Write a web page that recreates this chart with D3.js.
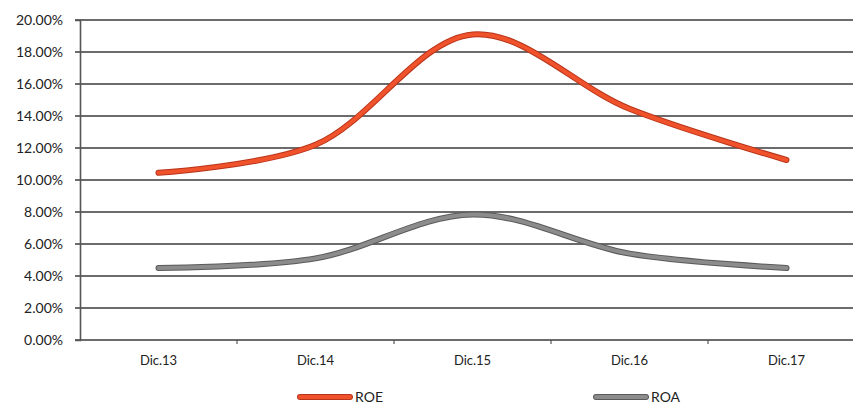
<!DOCTYPE html>
<html>
<head>
<meta charset="utf-8">
<script src="https://cdn.jsdelivr.net/npm/d3@7"></script>
<style>
  body { margin: 0; background: #fff; }
  text { font-family: Lato, "Open Sans", sans-serif; fill: #222; }
</style>
</head>
<body>
<div id="plot"></div>
<script>
// data
const periods = ["Dic.13", "Dic.14", "Dic.15", "Dic.16", "Dic.17"];
const roe = [0.1045, 0.122, 0.191, 0.1445, 0.1125];
const roa = [0.045, 0.051, 0.0785, 0.054, 0.045];
const yTicks = [0, 0.02, 0.04, 0.06, 0.08, 0.10, 0.12, 0.14, 0.16, 0.18, 0.20];

const w = 853;
const h = 404;
const margin = {top: 20, right: -12, bottom: 64, left: 80};
const innerWidth = w - margin.left - margin.right;
const innerHeight = h - margin.top - margin.bottom;

const svg = d3.select("div#plot")
  .append("svg")
    .attr("width", w)
    .attr("height", h);

const g = svg.append("g")
  .attr("transform", `translate(${margin.left}, ${margin.top})`);

const xScale = d3.scaleBand()
  .domain(periods)
  .range([0, innerWidth]);

const yScale = d3.scaleLinear()
  .domain([0, 0.20])
  .range([innerHeight, 0]);

// gridlines
g.append("g")
  .selectAll("line")
  .data(yTicks)
  .enter()
  .append("line")
    .attr("x1", -5)
    .attr("x2", innerWidth)
    .attr("y1", d => yScale(d))
    .attr("y2", d => yScale(d))
    .attr("stroke", "#3a3a3a")
    .attr("stroke-width", 1.6);

// y axis
const yAxis = d3.axisLeft(yScale)
  .tickValues(yTicks)
  .tickFormat(d3.format(".2%"))
  .tickSize(5)
  .tickPadding(12);

g.append("g")
  .attr("id", "yaxis")
  .call(yAxis)
  .call(a => a.select(".domain").attr("stroke", "#555").attr("stroke-width", 1.6))
  .call(a => a.selectAll(".tick line").remove())
  .call(a => a.selectAll("text").style("font-size", "14px").attr("fill", "#222"));

// x axis, ticks on band boundaries
g.append("g")
  .attr("id", "xaxis")
  .attr("transform", `translate(0, ${innerHeight})`)
  .call(d3.axisBottom(xScale).tickSize(0).tickPadding(16))
  .call(a => a.select(".domain").remove())
  .call(a => a.selectAll("text").style("font-size", "13px").attr("fill", "#222"));

g.append("g")
  .selectAll("line")
  .data(periods.slice(1))
  .enter()
  .append("line")
    .attr("x1", d => xScale(d))
    .attr("x2", d => xScale(d))
    .attr("y1", innerHeight)
    .attr("y2", innerHeight + 4)
    .attr("stroke", "#555")
    .attr("stroke-width", 1.2);

// lines
const line = d3.line()
  .x((d, i) => xScale(periods[i]) + xScale.bandwidth() / 2)
  .y(d => yScale(d))
  .curve(d3.curveCatmullRom.alpha(0.5));

const series = [
  {name: "ROE", values: roe, color: "#f0532b", edge: "#b8341a"},
  {name: "ROA", values: roa, color: "#8c8c8c", edge: "#5a5a5a"}
];

series.forEach(s => {
  g.append("path")
    .attr("d", line(s.values))
    .attr("fill", "none")
    .attr("stroke", s.edge)
    .attr("stroke-width", 6)
    .attr("stroke-linecap", "round");
  g.append("path")
    .attr("d", line(s.values))
    .attr("fill", "none")
    .attr("stroke", s.color)
    .attr("stroke-width", 4)
    .attr("stroke-linecap", "round");
});

// legend
const legendX = [300, 596];
series.forEach((s, i) => {
  const lg = svg.append("g")
    .attr("transform", `translate(${legendX[i]}, 397)`);
  lg.append("line")
    .attr("x1", 0).attr("x2", 50)
    .attr("stroke", s.edge).attr("stroke-width", 6)
    .attr("stroke-linecap", "round");
  lg.append("line")
    .attr("x1", 0).attr("x2", 50)
    .attr("stroke", s.color).attr("stroke-width", 4)
    .attr("stroke-linecap", "round");
  lg.append("text")
    .attr("x", 55)
    .attr("y", 5)
    .style("font-size", "14px")
    .text(s.name);
});
</script>
</body>
</html>
